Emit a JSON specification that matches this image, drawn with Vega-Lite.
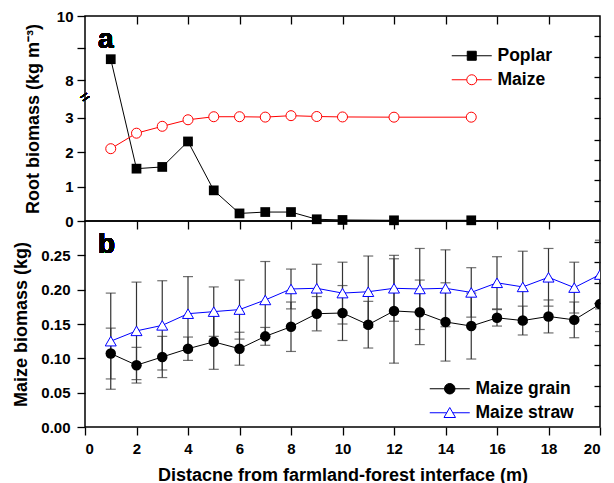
{
  "$schema": "https://vega.github.io/schema/vega-lite/v6.json",
  "padding": {"left": 12, "top": 8, "right": 5, "bottom": 2},
  "datasets": {
    "roots": [
      {"d": 1, "series": "Poplar", "biomass": 8.65},
      {"d": 2, "series": "Poplar", "biomass": 1.52},
      {"d": 3, "series": "Poplar", "biomass": 1.57},
      {"d": 4, "series": "Poplar", "biomass": 2.31},
      {"d": 5, "series": "Poplar", "biomass": 0.89},
      {"d": 6, "series": "Poplar", "biomass": 0.22},
      {"d": 7, "series": "Poplar", "biomass": 0.26},
      {"d": 8, "series": "Poplar", "biomass": 0.26},
      {"d": 9, "series": "Poplar", "biomass": 0.05},
      {"d": 10, "series": "Poplar", "biomass": 0.03},
      {"d": 12, "series": "Poplar", "biomass": 0.02},
      {"d": 15, "series": "Poplar", "biomass": 0.02},
      {"d": 1, "series": "Maize", "biomass": 2.1},
      {"d": 2, "series": "Maize", "biomass": 2.55},
      {"d": 3, "series": "Maize", "biomass": 2.75},
      {"d": 4, "series": "Maize", "biomass": 2.94},
      {"d": 5, "series": "Maize", "biomass": 3.13},
      {"d": 6, "series": "Maize", "biomass": 3.13},
      {"d": 7, "series": "Maize", "biomass": 3.08},
      {"d": 8, "series": "Maize", "biomass": 3.27},
      {"d": 9, "series": "Maize", "biomass": 3.16},
      {"d": 10, "series": "Maize", "biomass": 3.1},
      {"d": 12, "series": "Maize", "biomass": 3.07},
      {"d": 15, "series": "Maize", "biomass": 3.07}
    ],
    "maize": [
      {"d": 1, "series": "Maize grain", "mass": 0.107, "err": 0.037},
      {"d": 2, "series": "Maize grain", "mass": 0.09, "err": 0.026},
      {"d": 3, "series": "Maize grain", "mass": 0.102, "err": 0.03},
      {"d": 4, "series": "Maize grain", "mass": 0.114, "err": 0.017},
      {"d": 5, "series": "Maize grain", "mass": 0.124, "err": 0.04},
      {"d": 6, "series": "Maize grain", "mass": 0.114, "err": 0.024},
      {"d": 7, "series": "Maize grain", "mass": 0.132, "err": 0.013},
      {"d": 8, "series": "Maize grain", "mass": 0.146, "err": 0.036},
      {"d": 9, "series": "Maize grain", "mass": 0.165, "err": 0.025},
      {"d": 10, "series": "Maize grain", "mass": 0.166, "err": 0.04},
      {"d": 11, "series": "Maize grain", "mass": 0.149, "err": 0.034},
      {"d": 12, "series": "Maize grain", "mass": 0.169, "err": 0.076},
      {"d": 13, "series": "Maize grain", "mass": 0.167, "err": 0.047},
      {"d": 14, "series": "Maize grain", "mass": 0.153, "err": 0.057},
      {"d": 15, "series": "Maize grain", "mass": 0.147, "err": 0.048},
      {"d": 16, "series": "Maize grain", "mass": 0.159, "err": 0.012},
      {"d": 17, "series": "Maize grain", "mass": 0.155, "err": 0.021},
      {"d": 18, "series": "Maize grain", "mass": 0.161, "err": 0.024},
      {"d": 19, "series": "Maize grain", "mass": 0.156, "err": 0.026},
      {"d": 20, "series": "Maize grain", "mass": 0.179, "err": 0.04},
      {"d": 1, "series": "Maize straw", "mass": 0.125, "err": 0.07},
      {"d": 2, "series": "Maize straw", "mass": 0.14, "err": 0.071},
      {"d": 3, "series": "Maize straw", "mass": 0.148, "err": 0.065},
      {"d": 4, "series": "Maize straw", "mass": 0.165, "err": 0.054},
      {"d": 5, "series": "Maize straw", "mass": 0.168, "err": 0.036},
      {"d": 6, "series": "Maize straw", "mass": 0.171, "err": 0.043},
      {"d": 7, "series": "Maize straw", "mass": 0.185, "err": 0.056},
      {"d": 8, "series": "Maize straw", "mass": 0.201, "err": 0.029},
      {"d": 9, "series": "Maize straw", "mass": 0.202, "err": 0.035},
      {"d": 10, "series": "Maize straw", "mass": 0.195, "err": 0.045},
      {"d": 11, "series": "Maize straw", "mass": 0.197, "err": 0.052},
      {"d": 12, "series": "Maize straw", "mass": 0.202, "err": 0.048},
      {"d": 13, "series": "Maize straw", "mass": 0.201, "err": 0.059},
      {"d": 14, "series": "Maize straw", "mass": 0.202, "err": 0.056},
      {"d": 15, "series": "Maize straw", "mass": 0.196, "err": 0.036},
      {"d": 16, "series": "Maize straw", "mass": 0.21, "err": 0.038},
      {"d": 17, "series": "Maize straw", "mass": 0.204, "err": 0.052},
      {"d": 18, "series": "Maize straw", "mass": 0.218, "err": 0.042},
      {"d": 19, "series": "Maize straw", "mass": 0.203, "err": 0.037},
      {"d": 20, "series": "Maize straw", "mass": 0.222, "err": 0.05}
    ]
  },
  "vconcat": [
    {
      "width": 515,
      "height": 205,
      "data": {"name": "roots"},
      "resolve": {"axis": {"x": "independent", "y": "independent"}, "scale": {"shape": "independent"}, "legend": {"shape": "independent"}},
      "layer": [
        {
          "mark": {"type": "line", "strokeWidth": 1},
          "encoding": {
            "x": {"field": "d", "type": "quantitative", "scale": {"domain": [0, 20], "nice": false},
                  "axis": {"orient": "top", "values": [2, 4, 6, 8, 10, 12, 14, 16, 18], "labels": false, "tickSize": -8, "title": null}},
            "y": {"field": "biomass", "type": "quantitative",
                  "scale": {"domain": [0, 3, 8, 10], "range": [205, 101.7, 64, 0], "nice": false, "zero": false},
                  "axis": {"values": [0, 1, 2, 3, 8, 9, 10], "labelExpr": "datum.value == 9 ? '' : datum.label", "format": "d", "labelPadding": 4, "titlePadding": 14, "title": "Root biomass  (kg m\u207b\u00b3)"}},
            "color": {"field": "series", "type": "nominal", "scale": {"range": ["red", "black"]}, "legend": null}
          }
        },
        {
          "transform": [{"filter": "datum.series === 'Poplar'"}],
          "mark": {"type": "point", "shape": "square", "filled": true, "color": "black", "opacity": 1, "size": 95},
          "encoding": {
            "x": {"field": "d", "type": "quantitative", "scale": {"domain": [0, 20], "nice": false}, "axis": null},
            "y": {"field": "biomass", "type": "quantitative",
                  "scale": {"domain": [0, 3, 8, 10], "range": [205, 101.7, 64, 0], "nice": false, "zero": false},
                  "axis": {"orient": "right", "values": [9.36, 8.73, 8.08, 5.57, 2.98, 2.35, 1.77, 1.19, 0.58], "labels": false, "tickSize": -6, "title": null}}
          }
        },
        {
          "transform": [{"filter": "datum.series === 'Maize'"}],
          "mark": {"type": "point", "shape": "circle", "filled": true, "fill": "white", "stroke": "red", "strokeWidth": 1, "opacity": 1, "size": 100},
          "encoding": {
            "x": {"field": "d", "type": "quantitative", "scale": {"domain": [0, 20], "nice": false}, "axis": null},
            "y": {"field": "biomass", "type": "quantitative",
                  "scale": {"domain": [0, 3, 8, 10], "range": [205, 101.7, 64, 0], "nice": false, "zero": false}, "axis": null}
          }
        },
        {
          "data": {"values": []},
          "mark": {"type": "point", "filled": true, "fill": "black", "stroke": "black", "strokeWidth": 1, "opacity": 1},
          "encoding": {
            "shape": {"datum": "Poplar", "scale": {"range": ["M-4,0H4M-0.9,-0.9H0.9V0.9H-0.9Z"]},
              "legend": {"orient": "none", "legendX": 378, "legendY": 31, "title": null, "symbolSize": 100, "symbolStrokeWidth": 1, "symbolOpacity": 1, "labelOffset": 17}}
          }
        },
        {
          "data": {"values": []},
          "mark": {"type": "point", "filled": true, "fill": "white", "stroke": "red", "strokeWidth": 1, "opacity": 1},
          "encoding": {
            "shape": {"datum": "Maize", "scale": {"range": ["M-4,0H-1M1,0H4M-1,0A1,1,0,1,0,1,0A1,1,0,1,0,-1,0Z"]},
              "legend": {"orient": "none", "legendX": 378, "legendY": 55, "title": null, "symbolSize": 100, "symbolStrokeWidth": 1, "symbolOpacity": 1, "labelOffset": 17}}
          }
        },
        {
          "mark": {"type": "text", "text": "a", "fontSize": 28, "fontWeight": "bold", "align": "left", "baseline": "alphabetic"},
          "encoding": {
            "x": {"datum": 0.5, "type": "quantitative", "scale": {"domain": [0, 20], "nice": false}, "axis": null},
            "y": {"datum": 9.0, "type": "quantitative", "scale": {"domain": [0, 3, 8, 10], "range": [205, 101.7, 64, 0], "nice": false, "zero": false}, "axis": null}
          }
        },
        {
          "mark": {"type": "text", "text": "=", "fontSize": 16, "angle": -35, "align": "center", "baseline": "middle"},
          "encoding": {
            "x": {"datum": 0, "type": "quantitative", "scale": {"domain": [0, 20], "nice": false}, "axis": null},
            "y": {"datum": 5.7, "type": "quantitative", "scale": {"domain": [0, 3, 8, 10], "range": [205, 101.7, 64, 0], "nice": false, "zero": false}, "axis": null}
          }
        }
      ]
    },
    {
      "width": 515,
      "height": 206,
      "data": {"name": "maize"},
      "resolve": {"axis": {"x": "independent", "y": "independent"}, "scale": {"shape": "independent"}, "legend": {"shape": "independent"}},
      "layer": [
        {
          "mark": {"type": "errorbar", "ticks": {"size": 10}, "color": "#333333", "thickness": 1.2, "clip": true},
          "encoding": {
            "x": {"field": "d", "type": "quantitative", "scale": {"domain": [0, 20], "nice": false}, "axis": null},
            "y": {"field": "mass", "type": "quantitative", "scale": {"domain": [0, 0.3], "nice": false}, "axis": null},
            "yError": {"field": "err"}
          }
        },
        {
          "mark": {"type": "line", "strokeWidth": 1, "clip": true},
          "encoding": {
            "x": {"field": "d", "type": "quantitative", "scale": {"domain": [0, 20], "nice": false},
                  "axis": {"values": [0, 2, 4, 6, 8, 10, 12, 14, 16, 18, 20], "labelPadding": 6, "titlePadding": 10, "title": "Distacne from farmland-forest interface (m)"}},
            "y": {"field": "mass", "type": "quantitative", "scale": {"domain": [0, 0.3], "nice": false},
                  "axis": {"values": [0, 0.05, 0.1, 0.15, 0.2, 0.25], "format": ".2f", "labelPadding": 7, "titlePadding": 10, "title": "Maize biomass (kg)"}},
            "color": {"field": "series", "type": "nominal", "scale": {"range": ["black", "blue"]}, "legend": null}
          }
        },
        {
          "transform": [{"filter": "datum.series === 'Maize grain'"}],
          "mark": {"type": "point", "shape": "circle", "filled": true, "color": "black", "opacity": 1, "size": 110, "clip": true},
          "encoding": {
            "x": {"field": "d", "type": "quantitative", "scale": {"domain": [0, 20], "nice": false},
                  "axis": {"orient": "top", "values": [2, 4, 6, 8, 10, 12, 14, 16, 18], "labels": false, "tickSize": -8, "title": null}},
            "y": {"field": "mass", "type": "quantitative", "scale": {"domain": [0, 0.3], "nice": false},
                  "axis": {"orient": "right", "values": [0.03, 0.06, 0.09, 0.12, 0.15, 0.18, 0.21, 0.24, 0.27], "labels": false, "tickSize": -6, "title": null}}
          }
        },
        {
          "transform": [{"filter": "datum.series === 'Maize straw'"}],
          "mark": {"type": "point", "shape": "triangle-up", "filled": true, "fill": "white", "stroke": "blue", "strokeWidth": 1, "opacity": 1, "size": 121, "clip": true},
          "encoding": {
            "x": {"field": "d", "type": "quantitative", "scale": {"domain": [0, 20], "nice": false}, "axis": null},
            "y": {"field": "mass", "type": "quantitative", "scale": {"domain": [0, 0.3], "nice": false}, "axis": null}
          }
        },
        {
          "data": {"values": []},
          "mark": {"type": "point", "filled": true, "fill": "black", "stroke": "black", "strokeWidth": 1, "opacity": 1},
          "encoding": {
            "shape": {"datum": "Maize grain", "scale": {"range": ["M-4,0H4M-1.05,0A1.05,1.05,0,1,0,1.05,0A1.05,1.05,0,1,0,-1.05,0Z"]},
              "legend": {"orient": "none", "legendX": 356, "legendY": 159, "title": null, "symbolSize": 100, "symbolStrokeWidth": 1, "symbolOpacity": 1, "labelOffset": 17}}
          }
        },
        {
          "data": {"values": []},
          "mark": {"type": "point", "filled": true, "fill": "white", "stroke": "blue", "strokeWidth": 1, "opacity": 1},
          "encoding": {
            "shape": {"datum": "Maize straw", "scale": {"range": ["M-4,0H-0.6M0.6,0H4M0,-1.05L1.15,0.95H-1.15Z"]},
              "legend": {"orient": "none", "legendX": 356, "legendY": 183, "title": null, "symbolSize": 100, "symbolStrokeWidth": 1, "symbolOpacity": 1, "labelOffset": 17}}
          }
        },
        {
          "mark": {"type": "text", "text": "b", "fontSize": 28, "fontWeight": "bold", "align": "left", "baseline": "alphabetic"},
          "encoding": {
            "x": {"datum": 0.5, "type": "quantitative", "scale": {"domain": [0, 20], "nice": false}, "axis": null},
            "y": {"datum": 0.254, "type": "quantitative", "scale": {"domain": [0, 0.3], "nice": false}, "axis": null}
          }
        }
      ]
    }
  ],
  "spacing": 0,
  "bounds": "flush",
  "resolve": {
    "scale": {"color": "independent", "shape": "independent"},
    "legend": {"color": "independent", "shape": "independent"}
  },
  "config": {
    "font": "Liberation Sans",
    "view": {"stroke": "black", "strokeWidth": 1.5},
    "axis": {
      "grid": false, "domain": false,
      "labelFont": "Liberation Sans", "labelFontSize": 15, "labelFontWeight": "bold", "labelColor": "black",
      "titleFont": "Liberation Sans", "titleFontSize": 18, "titleFontWeight": "bold", "titleColor": "black",
      "tickColor": "black", "tickWidth": 1.3, "tickSize": 8
    },
    "legend": {
      "labelFont": "Liberation Sans", "labelFontSize": 17.5, "labelFontWeight": "bold", "labelColor": "black"
    },
    "text": {"font": "Liberation Sans", "color": "black"}
  }
}
